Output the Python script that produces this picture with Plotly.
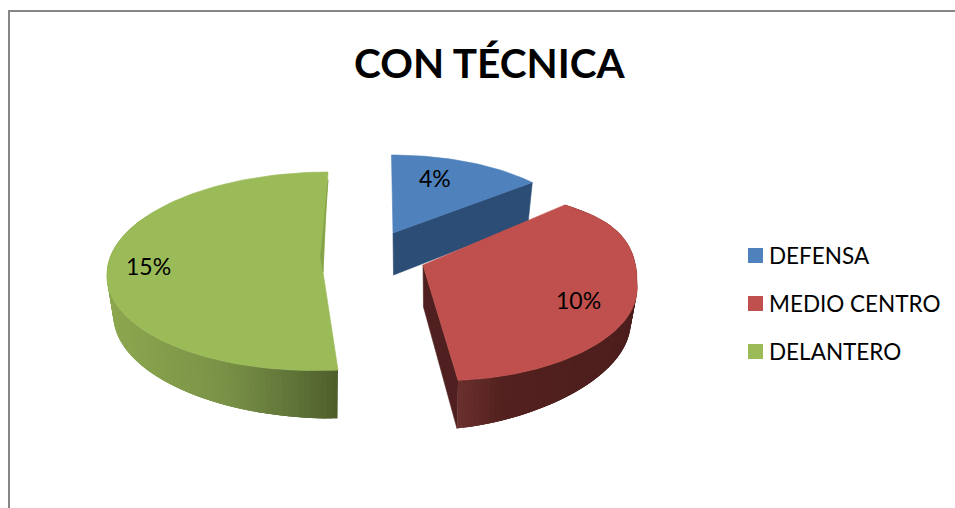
import math
import plotly.graph_objects as go

categories = ["DEFENSA", "MEDIO CENTRO", "DELANTERO"]
values = [4, 10, 15]
title_text = "CON TÉCNICA"

FONT = "Lato, Carlito, Calibri, sans-serif"
TOP = ["#4f81bd", "#c0504d", "#9bbb59"]

# Projection of each exploded wedge onto the page (pie plane -> pixels)
VIEW = [
    dict(tx=393, ty=233, rx=184, ryf=78, ryn=78, tilt=0, sf=-1.5, sn=0, tipd=42, da=42, du=-2.6, bumps=[]),
    dict(tx=423, ty=265, rx=214, ryf=114, ryn=114, tilt=18, sf=-33, sn=-12, tipd=42, da=50, du=-16,
         bumps=[(49.6, 90, 8, -8), (90, 173.8, -1, -6)]),
    dict(tx=323, ty=272, rx=216, ryf=100, ryn=98.6, tilt=0, sf=5, sn=8.4, tipd=44, da=47.5, du=8, bumps=[]),
]
RIM = [
    [(0, "#2c4d75"), (1, "#2c4d75")],
    [(0, "#6a302e"), (0.25, "#53211f"), (1, "#4c1e1d")],
    [(0, "#8ca74f"), (0.5, "#7a9247"), (0.78, "#627639"), (1, "#4e5e2b")],
]


def hex_rgb(h):
    return [int(h[i:i + 2], 16) for i in (1, 3, 5)]


def ramp(stops, t):
    t = max(0, min(1, t))
    for (a, ca), (b, cb) in zip(stops, stops[1:]):
        if t <= b:
            f = (t - a) / (b - a)
            ra, rb = hex_rgb(ca), hex_rgb(cb)
            return "rgb(%d,%d,%d)" % tuple(round(p + (q - p) * f) for p, q in zip(ra, rb))
    return stops[-1][1]


def top_pt(v, deg):
    u, w = math.sin(math.radians(deg)), math.cos(math.radians(deg))
    s = v["sf"] if w > 0 else v["sn"]
    r = v["ryf"] if w > 0 else v["ryn"]
    x, y = v["tx"] + v["rx"] * u + s * w, v["ty"] - r * w + v["tilt"] * u
    for a, b, dx, dy in v["bumps"]:
        if a <= deg <= b:
            k = math.sin(math.pi * (deg - a) / (b - a))
            x, y = x + dx * k, y + dy * k
    return x, y


def low_pt(v, deg):
    x, y = top_pt(v, deg)
    d = v["da"] + v["du"] * math.sin(math.radians(deg))
    return v["tx"] + (x - v["tx"]) * 0.97, y + d


def poly(fig, pts, color, stroke=True):
    fig.add_trace(go.Scatter(
        x=[p[0] for p in pts] + [pts[0][0]], y=[p[1] for p in pts] + [pts[0][1]],
        mode="lines", fill="toself", fillcolor=color,
        line=dict(color=color, width=0.6 if stroke else 0), hoverinfo="skip", showlegend=False))


total = sum(values)
spans, acc = [], 0.0
for val in values:
    spans.append((acc, acc + 360 * val / total))
    acc += 360 * val / total

fig = go.Figure()

for i in (0, 2, 1):
    v, (a0, a1) = VIEW[i], spans[i]
    n = max(8, int((a1 - a0) / 1.5))
    angs = [a0 + (a1 - a0) * k / n for k in range(n + 1)]
    arc = [top_pt(v, a) for a in angs]
    tip = (v["tx"], v["ty"])
    tip_low = (v["tx"] + 0.5, v["ty"] + v["tipd"])
    if i == 0:
        poly(fig, [tip, arc[-1], low_pt(v, angs[-1]), tip_low], RIM[0][0][1])
    else:
        if i == 1:
            poly(fig, [tip, arc[-1], low_pt(v, angs[-1]), tip_low], "#4f201f")
        xs = [p[0] for p in arc]
        lo, hi = (arc[-1][0], max(xs)) if i == 1 else (min(xs), arc[0][0])
        # paint along the rim with each band overlapping the next, so no seams show
        if i == 1:
            bands = [(max(k - 2, 0), k + 1, k) for k in range(n - 1, -1, -1)]
        else:
            # the far part of the green rim lies behind its own top
            bands = [(k, min(k + 3, n), k) for k in range(n) if angs[k] < 300]
        for s, e, k in bands:
            p, q = arc[s], arc[e]
            poly(fig, [p, q, low_pt(v, angs[e]), low_pt(v, angs[s])],
                 ramp(RIM[i], ((arc[k][0] + arc[k + 1][0]) / 2 - lo) / (hi - lo)), stroke=False)
    poly(fig, [tip] + arc, TOP[i])
    if i == 2:
        far = arc[-1]
        poly(fig, [(far[0], far[1] + 8), (tip[0] - 2.5, tip[1] - 15), tip,
                   (tip[0] + 2, tip[1] - 50)], "#86a34a")

# legend swatches, one per category
for cat, col, ly in zip(categories, TOP, (255.5, 303.5, 351.5)):
    fig.add_trace(go.Scatter(
        x=[755.5], y=[ly], mode="markers", name=cat,
        marker=dict(symbol="square", size=15, color=col, line=dict(width=0)),
        hoverinfo="skip", showlegend=False))

label_xy = [(435, 178), (578, 300), (148, 266)]
ann = [dict(x=x, y=y, xref="x", yref="y", text=f"{val}%", showarrow=False,
            font=dict(family=FONT, size=23, color="#000000"))
       for val, (x, y) in zip(values, label_xy)]
ann += [dict(x=767, y=ly, xref="x", yref="y", text=cat, showarrow=False, xanchor="left",
             font=dict(family=FONT, size=22.5, color="#000000"))
        for cat, ly in zip(categories, (255, 303, 351))]
ann.append(dict(x=489, y=62, xref="x", yref="y", text=title_text, showarrow=False,
                font=dict(family=FONT, size=40.5, color="#000000", weight="bold")))

fig.update_layout(
    width=955, height=508, margin=dict(l=0, r=0, t=0, b=0), autosize=False,
    paper_bgcolor="#ffffff", plot_bgcolor="#ffffff", showlegend=False,
    xaxis=dict(range=[0, 955], visible=False, fixedrange=True),
    yaxis=dict(range=[508, 0], visible=False, fixedrange=True),
    annotations=ann,
    shapes=[
        dict(type="line", xref="x", yref="y", x0=9, y0=11, x1=955, y1=11, line=dict(color="#868686", width=2)),
        dict(type="line", xref="x", yref="y", x0=9, y0=10, x1=9, y1=508, line=dict(color="#868686", width=2)),
    ],
)
fig.write_html("out.html", config=dict(displayModeBar=False),
               post_script="document.documentElement.style.overflow='hidden';document.body.style.margin='0';")
